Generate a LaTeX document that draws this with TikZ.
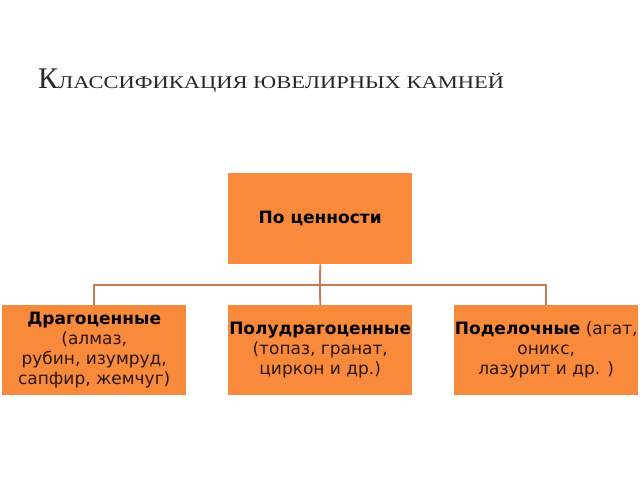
\documentclass[tikz,border=0pt]{standalone}
\usepackage{fontspec}
\usepackage{graphicx}
\setmainfont{DejaVu Sans}
\newfontfamily\titlefont{Liberation Serif}
\definecolor{boxorange}{RGB}{249,138,60}
\definecolor{lineorange}{RGB}{200,122,85}
\definecolor{txtdark}{RGB}{40,22,8}
\begin{document}
\begin{tikzpicture}[x=1pt,y=-1pt,
  box/.style={fill=boxorange,draw=none,minimum width=184pt,minimum height=91pt,inner sep=0pt,
     align=center,text=txtdark,font=\fontsize{17}{20}\selectfont,anchor=north west},
  conn/.style={draw=lineorange,line width=1.8pt}]
\useasboundingbox (0,0) rectangle (640,480);
\node[anchor=base west,inner sep=0pt,text=black!85] (title) at (38,88)
  {\titlefont{\fontsize{30}{30}\selectfont К}\scalebox{1.25}[1]{\fontsize{18}{18}\selectfont ЛАССИФИКАЦИЯ ЮВЕЛИРНЫХ КАМНЕЙ}};
\node[box,minimum height=91pt] (top) at (228,173) {\textbf{\color{black}По ценности}};
\node[box,minimum height=90pt] (b1) at (2,305) {\textbf{\color{black}Драгоценные}\\(алмаз,\\рубин, изумруд,\\сапфир, жемчуг)};
\node[box,minimum height=90pt] (b2) at (228,305) {\textbf{\color{black}Полудрагоценные}\\(топаз, гранат,\\циркон и др.)};
\node[box,minimum height=90pt] (b3) at (454,305) {\textbf{\color{black}Поделочные} (агат,\\оникс,\\лазурит и др. )};
\coordinate (hub) at (320,285);
\draw[conn] (top.south) -- (hub);
\draw[conn] (b1.north) |- (hub) -| (b3.north);
\draw[conn] (hub) -- (b2.north);
\end{tikzpicture}
\end{document}
